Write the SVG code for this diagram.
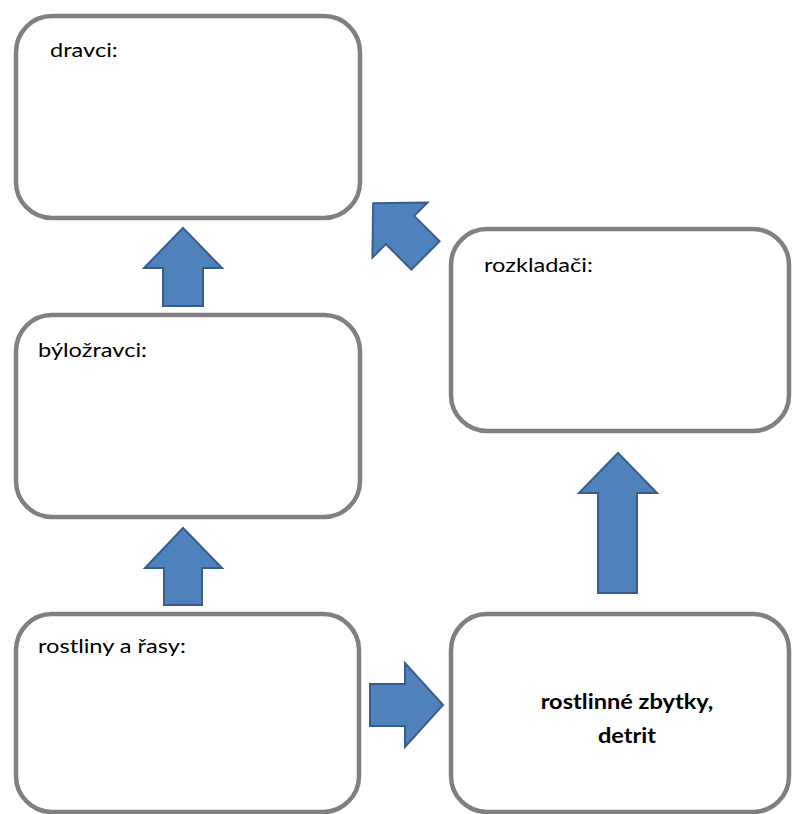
<svg xmlns="http://www.w3.org/2000/svg" width="792" height="814" viewBox="0 0 792 814">
<style>
.box{fill:#ffffff;stroke:#808080;stroke-width:4.5}
.arr{fill:#4F81BD;stroke:#385D8A;stroke-width:2;stroke-linejoin:miter}
.lbl{font-family:Lato,"Liberation Sans",sans-serif;font-size:20px;fill:#000}
.b{font-weight:bold;text-anchor:middle}
</style>
<rect width="792" height="814" fill="#ffffff"/>
<g id="dravci">
<rect class="box" x="16" y="16" width="344" height="202" rx="36"/>
<text class="lbl" transform="translate(50,57) scale(1.18,1)">dravci:</text>
</g>
<g id="bylozravci">
<rect class="box" x="16" y="315" width="344" height="202" rx="36"/>
<text class="lbl" transform="translate(38,357) scale(1.18,1)">býložravci:</text>
</g>
<g id="rostliny">
<rect class="box" x="16" y="614" width="343" height="198" rx="36"/>
<text class="lbl" transform="translate(38,653) scale(1.18,1)">rostliny a řasy:</text>
</g>
<g id="rozkladaci">
<rect class="box" x="451" y="229" width="338" height="202" rx="36"/>
<text class="lbl" transform="translate(484,272) scale(1.18,1)">rozkladači:</text>
</g>
<g id="zbytky">
<rect class="box" x="451" y="614" width="338" height="198" rx="36"/>
<text class="lbl b" transform="translate(627,709) scale(1.18,1)">rostlinné zbytky,</text>
<text class="lbl b" transform="translate(627,743) scale(1.18,1)">detrit</text>
</g>
<g id="connectors">
<polygon class="arr" points="183,228 222,268 203,268 203,306 163,306 163,268 144,268"/>
<polygon class="arr" points="183,528 222,568 202,568 202,605 164,605 164,568 145,568"/>
<polygon class="arr" points="618,453 657,493 637,493 637,593 598,593 598,493 579,493"/>
<polygon class="arr" points="443,705 405,663 405,684 370,684 370,726 405,726 405,747"/>
<polygon class="arr" transform="translate(400,230) rotate(-45)" points="0,-38 39,0 20,0 20,36 -20,36 -20,0 -39,0"/>
</g>
</svg>
